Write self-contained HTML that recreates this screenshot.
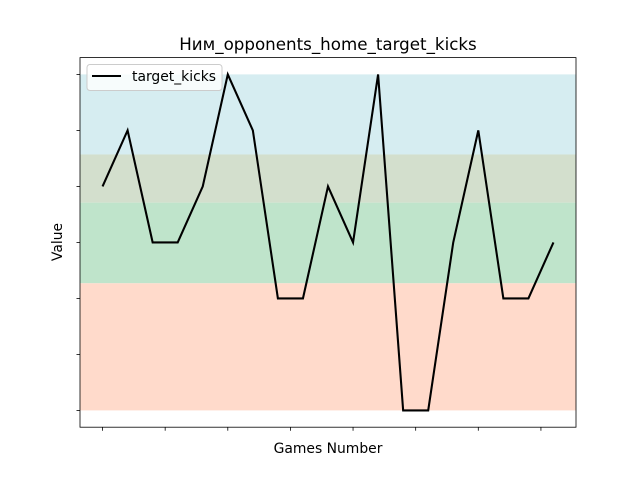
<!DOCTYPE html>
<html><head><meta charset="utf-8"><style>
body{margin:0;background:#fff;}
svg{display:block;font-family:"DejaVu Sans","Liberation Sans",sans-serif;}
</style></head><body>
<svg id="chart" width="640" height="480">
<rect width="640" height="480" fill="#fff"/>
<g id="bands"></g>
<g id="ticks"></g>
<polyline id="line" fill="none" stroke="#000" stroke-width="2.08"/>
<rect x="80" y="57.6" width="496" height="369.6" fill="none" stroke="#000" stroke-width="0.8"/>
<text x="328" y="50" text-anchor="middle" font-size="16.7">Ним_opponents_home_target_kicks</text>
<text x="328" y="453" text-anchor="middle" font-size="13.9">Games Number</text>
<text transform="translate(62,242) rotate(-90)" text-anchor="middle" font-size="13.9">Value</text>
<g>
<rect x="87" y="64.5" width="135" height="26" rx="3" fill="#fff" fill-opacity="0.8" stroke="#ccc"/>
<line x1="92" y1="76" x2="121" y2="76" stroke="#000" stroke-width="2.08"/>
<text x="132" y="81" font-size="13.9">target_kicks</text>
</g>
</svg>
<script>
const values = [4,5,3,3,4,6,5,2,2,4,3,6,0,0,3,5,2,2,3];
const xTicks = [0,2.5,5,7.5,10,12.5,15,17.5];
const yTicks = [0,1,2,3,4,5,6];
const bandLows = [4.57,3.71,2.27,0];
const bandHighs = [6,4.57,3.71,2.27];
const bandColors = ['#d6edf1','#d3dfcd','#bfe4cb','#ffdacb'];
const L=80,R=576,T=57.6,B=427.2;
const xmin=-0.9,xmax=values.length-1+0.9,ymin=-0.3,ymax=6.3;
const sx=v=>L+(v-xmin)/(xmax-xmin)*(R-L);
const sy=v=>B-(v-ymin)/(ymax-ymin)*(B-T);
const NS='http://www.w3.org/2000/svg';
const bands=document.getElementById('bands');
bandLows.forEach((lo,i)=>{
  const r=document.createElementNS(NS,'rect');
  r.setAttribute('x',L);r.setAttribute('width',R-L);
  r.setAttribute('y',sy(bandHighs[i]));r.setAttribute('height',sy(lo)-sy(bandHighs[i]));
  r.setAttribute('fill',bandColors[i]);
  
  
  bands.appendChild(r);
});
const tk=document.getElementById('ticks');
xTicks.forEach(t=>{
  const l=document.createElementNS(NS,'line');
  l.setAttribute('x1',sx(t));l.setAttribute('x2',sx(t));l.setAttribute('y1',B);l.setAttribute('y2',B+3.5);
  l.setAttribute('stroke','#000');l.setAttribute('stroke-width','0.8');
  
  
  tk.appendChild(l);
});
yTicks.forEach(t=>{
  const l=document.createElementNS(NS,'line');
  l.setAttribute('x1',L-3.5);l.setAttribute('x2',L);l.setAttribute('y1',sy(t));l.setAttribute('y2',sy(t));
  l.setAttribute('stroke','#000');l.setAttribute('stroke-width','0.8');
  
  
  tk.appendChild(l);
});
document.getElementById('line').setAttribute('points',values.map((v,i)=>sx(i)+','+sy(v)).join(' '));
</script>
</body></html>
